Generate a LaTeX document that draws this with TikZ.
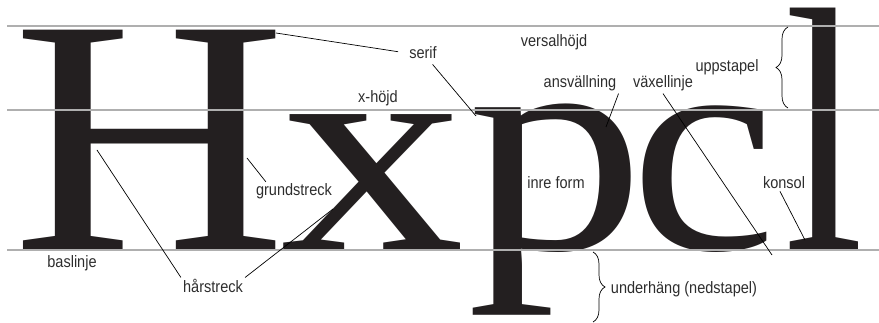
\documentclass[tikz,border=0pt]{standalone}
\usepackage{fontspec}
\setmainfont{Liberation Sans}
\newfontfamily\glyphfont{Liberation Serif}
\newfontfamily\labelfont[FakeStretch=0.88]{Liberation Sans}
\usetikzlibrary{decorations.pathreplacing}

\definecolor{ink}{RGB}{35,31,32}
\definecolor{guide}{RGB}{175,175,175}
\definecolor{labelgray}{RGB}{45,45,45}

% big letter, stretched to the reference's proportions
\newcommand{\bigglyph}[3]{\scalebox{#1}[#2]{\glyphfont\fontsize{100}{100}\selectfont #3}}

\begin{document}
\begin{tikzpicture}[
    x=1pt, y=-1pt,
    glyph/.style={anchor=base west, inner sep=0pt, text=ink},
    lbl/.style={anchor=base, inner sep=2pt, text=labelgray, font={\labelfont\fontsize{16.5}{18}\selectfont}},
    guideline/.style={draw=guide, line width=2pt},
    leader/.style={draw=black, line width=0.7pt},
    curly/.style={draw=black, line width=0.7pt, decorate, decoration={brace, amplitude=12pt}}
]
\useasboundingbox (0,0) rectangle (879,323);

% The letters
\node[glyph] (H) at (12.1,250) {\bigglyph{3.80}{3.35}{H}};
\node[glyph] (x) at (280.6,250) {\bigglyph{3.69}{2.94}{x}};
\node[glyph] (p) at (467.7,250) {\bigglyph{3.55}{3.09}{p}};
\node[glyph] (c) at (630,250) {\bigglyph{3.30}{3.05}{c}};
\node[glyph] (l) at (784.5,250) {\bigglyph{2.87}{3.48}{l}};

% Guide lines: versal height, x-height, baseline
\draw[guideline] (7,26) -- (879,26);
\draw[guideline] (7,110) -- (879,110);
\draw[guideline] (7,250) -- (879,250);

% Labels
\node[lbl] (serif) at (423,59) {serif};
\node[lbl] (versal) at (554,47) {versalhöjd};
\node[lbl] (xheight) at (378,103) {x-höjd};
\node[lbl] (swell) at (580,88) {ansvällning};
\node[lbl] (axis) at (663,88) {växellinje};
\node[lbl] (asc) at (727,72) {uppstapel};
\node[lbl] (counter) at (556,189) {inre form};
\node[lbl] (bracket) at (784,189) {konsol};
\node[lbl] (stem) at (294,196) {grundstreck};
\node[lbl] (base) at (72,268) {baslinje};
\node[lbl] (hair) at (213,293) {hårstreck};
\node[lbl] (desc) at (684,294) {underhäng (nedstapel)};

% Points on the letters
\coordinate (Hserif) at (276,33);
\coordinate (pspur) at (476,116);
\coordinate (pbowl) at (606,127);
\coordinate (cstress) at (772,255);
\coordinate (lfoot) at (805,240);
\coordinate (Hstem) at (247,158);
\coordinate (Hbar) at (97,150);
\coordinate (xhair) at (333,209);

% Leader lines
\draw[leader, shorten <=9pt] (serif.west) -- (Hserif);
\draw[leader, shorten <=4pt] ([xshift=7pt]serif.south) -- (pspur);
\draw[leader] (swell.south east) -- (pbowl);
\draw[leader] (axis.south) -- (cstress);
\draw[leader] ([xshift=-4pt]bracket.south) -- (lfoot);
\draw[leader] ([xshift=12pt]stem.north west) -- (Hstem);
\draw[leader] (hair.north west) -- (Hbar);
\draw[leader] (hair.north east) -- (xhair);

% Braces
\coordinate (ascTop) at (788,27);
\coordinate (ascBot) at (788,108);
\coordinate (descTop) at (593,252);
\coordinate (descBot) at (593,322);
\draw[curly] (ascBot) -- (ascTop);
\draw[curly] (descTop) -- (descBot);

\end{tikzpicture}
\end{document}
